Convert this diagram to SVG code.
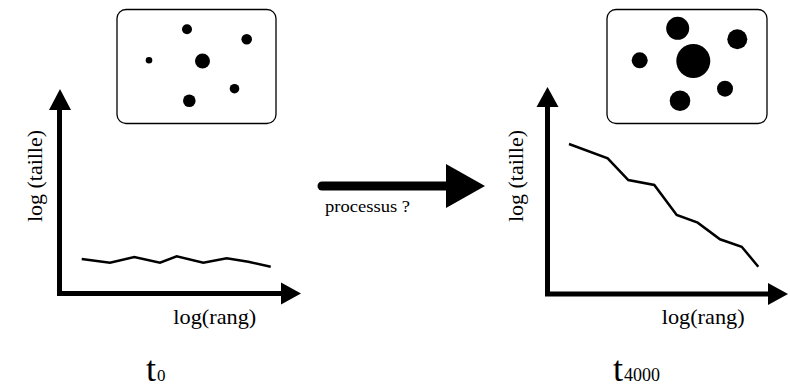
<svg xmlns="http://www.w3.org/2000/svg" width="790" height="388" viewBox="0 0 790 388">
<style>
.box{fill:#fff;stroke:#000;stroke-width:1.3}
.dot{fill:#000}
.axis{stroke:#000;stroke-width:5;fill:none}
.head{fill:#000}
.curve{stroke:#000;stroke-width:2.5;fill:none;stroke-linejoin:miter}
text{fill:#000;font-family:'Liberation Serif','DejaVu Serif',serif}
</style>
<rect width="790" height="388" fill="#fff"/>
<g id="left-panel">
  <g id="left-box">
    <rect class="box" x="117" y="9.5" width="159" height="114" rx="9"/>
    <circle class="dot" cx="187" cy="29.3" r="5"/>
    <circle class="dot" cx="246.7" cy="39.3" r="5.3"/>
    <circle class="dot" cx="149" cy="60.3" r="3.3"/>
    <circle class="dot" cx="202.5" cy="61" r="7.5"/>
    <circle class="dot" cx="234.5" cy="88.7" r="4.8"/>
    <circle class="dot" cx="189.3" cy="100.7" r="6.3"/>
  </g>
  <g id="left-chart">
    <path class="axis" d="M59.5,296 V108 M57,293.5 H283"/>
    <polygon class="head" points="49,110 60,89 71,110"/>
    <polygon class="head" points="281,282.5 301,293.5 281,304.5"/>
    <polyline class="curve" points="81.7,259 110,262.7 134.3,257 160,262.7 176.7,256.3 203.3,262.7 226.7,258.3 248.3,261.7 270.7,266.7"/>
    <text x="42" y="176" font-size="20" text-anchor="middle" textLength="92" lengthAdjust="spacingAndGlyphs" transform="rotate(-90 42 176)">log (taille)</text>
    <text x="173.3" y="324" font-size="21" textLength="83" lengthAdjust="spacingAndGlyphs">log(rang)</text>
  </g>
  <text x="146" y="381" font-size="36">t<tspan x="157" font-size="17">0</tspan></text>
</g>
<g id="connectors">
  <line x1="322" y1="186" x2="448" y2="186" stroke="#000" stroke-width="9" stroke-linecap="round"/>
  <polygon class="head" points="446,164 485,186 446,208"/>
  <text x="325" y="211.7" font-size="17" textLength="85" lengthAdjust="spacingAndGlyphs">processus ?</text>
</g>
<g id="right-panel">
  <g id="right-box">
    <rect class="box" x="607" y="9.5" width="160" height="114" rx="9"/>
    <circle class="dot" cx="677.7" cy="28.3" r="11.5"/>
    <circle class="dot" cx="737.3" cy="39.3" r="10"/>
    <circle class="dot" cx="639.7" cy="60.3" r="8"/>
    <circle class="dot" cx="693.3" cy="61" r="17"/>
    <circle class="dot" cx="725" cy="88.7" r="8"/>
    <circle class="dot" cx="680" cy="100.7" r="10.3"/>
  </g>
  <g id="right-chart">
    <path class="axis" d="M547.5,296.5 V105 M545,294 H770"/>
    <polygon class="head" points="536.5,107 547.5,87 558.5,107"/>
    <polygon class="head" points="768,283 788,294 768,305"/>
    <polyline class="curve" points="569,144 607.7,158.3 628.3,180 654.3,185 676.7,215 697.7,222.7 720,239.3 741.7,246.7 758.3,266.7"/>
    <text x="522.5" y="176" font-size="20" text-anchor="middle" textLength="92" lengthAdjust="spacingAndGlyphs" transform="rotate(-90 522.5 176)">log (taille)</text>
    <text x="661.7" y="324" font-size="21" textLength="83" lengthAdjust="spacingAndGlyphs">log(rang)</text>
  </g>
  <text x="613" y="381" font-size="36">t<tspan x="624" font-size="18">4000</tspan></text>
</g>
</svg>
